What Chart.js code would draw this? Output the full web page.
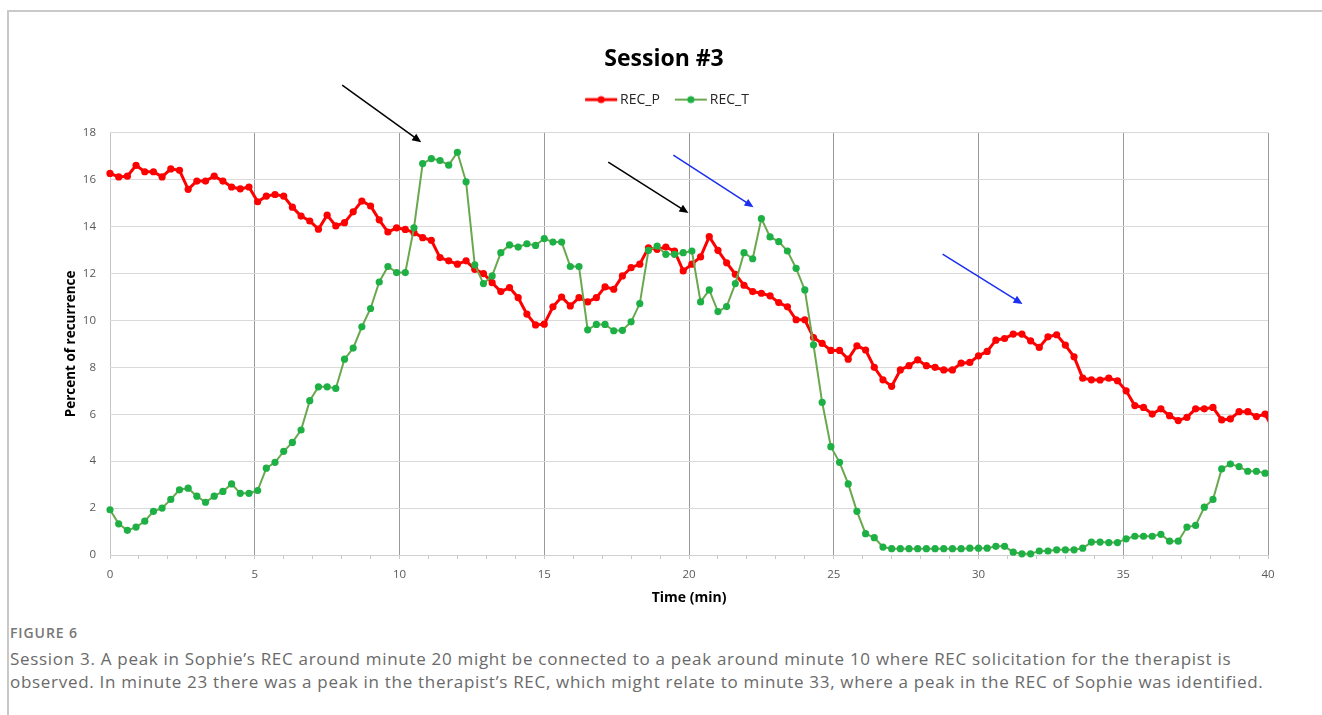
<!DOCTYPE html>
<html>
<head>
<meta charset="utf-8">
<script src="https://cdn.jsdelivr.net/npm/chart.js@4/dist/chart.umd.min.js"></script>
<style>
  html, body { margin: 0; padding: 0; background: #fff; }
  body { width: 1322px; height: 715px; position: relative; overflow: hidden; font-family: "Open Sans", sans-serif; }
  #frame { position: absolute; left: 7px; top: 10px; right: 0; bottom: 0; border-top: 2px solid #c9c9c9; border-left: 2px solid #c9c9c9; }
  #wrap { position: absolute; left: 0; top: 0; width: 1322px; height: 620px; }
  #fig { position: absolute; left: 10px; top: 623px; font-size: 14px; font-weight: 600; color: #777; letter-spacing: 0.9px; }
  #caption { position: absolute; left: 10px; top: 647px; font-size: 17px; line-height: 23px; letter-spacing: 0.7px; color: #6a6a6a; white-space: nowrap; }
</style>
</head>
<body>
<div id="frame"></div>
<div id="wrap"><canvas id="chart" width="1322" height="620"></canvas></div>
<div id="fig">FIGURE 6</div>
<div id="caption">Session 3. A peak in Sophie’s REC around minute 20 might be connected to a peak around minute 10 where REC solicitation for the therapist is<br>observed. In minute 23 there was a peak in the therapist’s REC, which might relate to minute 33, where a peak in the REC of Sophie was identified.</div>
<script>
// Recurrence samples are taken every 0.3 min across the 40-minute session.
const SAMPLE_STEP_MIN = 0.3;

const recP = [
  16.27, 16.12, 16.15, 16.61, 16.34, 16.34, 16.12, 16.46, 16.40, 15.59,
  15.94, 15.94, 16.15, 15.94, 15.69, 15.61, 15.69, 15.06, 15.30, 15.37,
  15.30, 14.83, 14.45, 14.24, 13.89, 14.49, 14.03, 14.17, 14.63, 15.09,
  14.88, 14.29, 13.77, 13.95, 13.88, 13.74, 13.53, 13.42, 12.68, 12.54,
  12.40, 12.54, 12.18, 12.00, 11.61, 11.23, 11.40, 10.97, 10.27, 9.81,
  9.84, 10.58, 11.00, 10.62, 10.97, 10.79, 10.97, 11.43, 11.33, 11.90,
  12.25, 12.40, 13.10, 13.03, 13.13, 12.96, 12.11, 12.40, 12.71, 13.57,
  12.99, 12.46, 11.97, 11.50, 11.23, 11.16, 11.05, 10.76, 10.58, 10.03,
  10.03, 9.27, 9.02, 8.72, 8.72, 8.35, 8.92, 8.74, 8.00, 7.47,
  7.19, 7.89, 8.07, 8.32, 8.07, 8.00, 7.89, 7.89, 8.18, 8.21,
  8.49, 8.68, 9.16, 9.23, 9.42, 9.42, 9.13, 8.85, 9.30, 9.39,
  8.95, 8.45, 7.54, 7.47, 7.46, 7.54, 7.43, 7.00, 6.37, 6.29,
  6.01, 6.23, 5.94, 5.73, 5.87, 6.23, 6.23, 6.29, 5.76, 5.80,
  6.11, 6.11, 5.90, 6.01, 5.30
];

const recT = [
  1.93, 1.33, 1.05, 1.19, 1.44, 1.86, 2.00, 2.37, 2.78, 2.85,
  2.51, 2.25, 2.51, 2.71, 3.03, 2.63, 2.63, 2.75, 3.70, 3.95,
  4.42, 4.80, 5.33, 6.58, 7.17, 7.17, 7.10, 8.35, 8.82, 9.73,
  10.51, 11.64, 12.30, 12.04, 12.04, 13.95, 16.69, 16.90, 16.82, 16.62,
  17.17, 15.91, 12.37, 11.57, 11.90, 12.89, 13.22, 13.13, 13.27, 13.20,
  13.49, 13.34, 13.34, 12.30, 12.30, 9.60, 9.83, 9.83, 9.56, 9.58,
  9.94, 10.72, 12.99, 13.17, 12.82, 12.82, 12.89, 12.96, 10.79, 11.30,
  10.38, 10.59, 11.57, 12.89, 12.63, 14.34, 13.56, 13.36, 12.96, 12.22,
  11.30, 8.96, 6.51, 4.62, 3.95, 3.03, 1.86, 0.91, 0.74, 0.34,
  0.27, 0.27, 0.27, 0.27, 0.27, 0.27, 0.27, 0.27, 0.27, 0.29,
  0.29, 0.29, 0.37, 0.37, 0.12, 0.05, 0.05, 0.17, 0.17, 0.22,
  0.22, 0.22, 0.29, 0.55, 0.55, 0.53, 0.53, 0.69, 0.80, 0.80,
  0.80, 0.88, 0.59, 0.59, 1.19, 1.26, 2.04, 2.37, 3.67, 3.88,
  3.77, 3.57, 3.57, 3.49
];

const seriesNames = ['REC_P', 'REC_T'];
const xTickLabels = [0, 5, 10, 15, 20, 25, 30, 35, 40];
const yTickLabels = [0, 2, 4, 6, 8, 10, 12, 14, 16, 18];

// Annotation arrows, endpoints in (minutes, percent)
const arrowFrom = [[8.02, 20.03], [17.21, 16.75], [19.46, 17.05], [28.76, 12.83]];
const arrowTo   = [[10.75, 17.60], [19.98, 14.58], [22.23, 14.83], [31.52, 10.70]];
const arrowColors = ['#000000', '#000000', '#1a2ff0', '#1a2ff0'];

const toPoints = vals => vals.map((v, i) => ({ x: +(i * SAMPLE_STEP_MIN).toFixed(2), y: v }));

// Legend swatch: short line with a dot in the middle (offset right so the label sits close)
function swatch(lineColor, dotColor, lw) {
  const c = document.createElement('canvas');
  c.width = 54; c.height = 10;
  const g = c.getContext('2d');
  g.strokeStyle = lineColor; g.lineWidth = lw;
  g.beginPath(); g.moveTo(16, 5); g.lineTo(48, 5); g.stroke();
  g.fillStyle = dotColor;
  g.beginPath(); g.arc(32, 5, 3.6, 0, Math.PI * 2); g.fill();
  return c;
}

const arrowPlugin = {
  id: 'arrows',
  afterDatasetsDraw(chart) {
    const { ctx, scales: { x, y } } = chart;
    ctx.save();
    arrowFrom.forEach((from, i) => {
      const to = arrowTo[i];
      const x0 = x.getPixelForValue(from[0]), y0 = y.getPixelForValue(from[1]);
      const x1 = x.getPixelForValue(to[0]), y1 = y.getPixelForValue(to[1]);
      const ang = Math.atan2(y1 - y0, x1 - x0);
      const head = 9, half = 4;
      ctx.strokeStyle = arrowColors[i];
      ctx.fillStyle = arrowColors[i];
      ctx.lineWidth = 1.5;
      ctx.beginPath();
      ctx.moveTo(x0, y0);
      ctx.lineTo(x1 - Math.cos(ang) * head * 0.8, y1 - Math.sin(ang) * head * 0.8);
      ctx.stroke();
      ctx.beginPath();
      ctx.moveTo(x1, y1);
      ctx.lineTo(x1 - Math.cos(ang) * head - Math.sin(ang) * half, y1 - Math.sin(ang) * head + Math.cos(ang) * half);
      ctx.lineTo(x1 - Math.cos(ang) * head + Math.sin(ang) * half, y1 - Math.sin(ang) * head - Math.cos(ang) * half);
      ctx.closePath();
      ctx.fill();
    });
    ctx.restore();
  }
};

const swatches = [swatch('#ff0000', '#ff0000', 3), swatch('#6aa84f', '#1db044', 2)];

new Chart(document.getElementById('chart'), {
  type: 'line',
  data: {
    datasets: [
      {
        label: seriesNames[0],
        data: toPoints(recP),
        borderColor: '#ff0000',
        backgroundColor: '#ff0000',
        borderWidth: 3,
        pointRadius: c => (c.parsed && c.parsed.x > 40 ? 0 : 3.6),
        pointBorderWidth: 0,
        pointBackgroundColor: '#ff0000',
        tension: 0,
        order: 1,
        clip: { left: 6, top: 6, right: 0, bottom: 6 }
      },
      {
        label: seriesNames[1],
        data: toPoints(recT),
        borderColor: '#6aa84f',
        backgroundColor: '#1db044',
        borderWidth: 2,
        pointRadius: 3.6,
        pointBorderWidth: 0,
        pointBackgroundColor: '#1db044',
        tension: 0,
        order: 0,
        clip: { left: 6, top: 6, right: 6, bottom: 6 }
      }
    ]
  },
  options: {
    responsive: false,
    animation: false,
    events: [],
    layout: { padding: { left: 60, right: 54, top: 0, bottom: 10 } },
    plugins: {
      title: {
        display: true,
        text: 'Session #3',
        color: '#000',
        font: { family: 'Open Sans', size: 23, weight: 'bold' },
        padding: { top: 46, bottom: 10 }
      },
      // empty spacer between the legend and the plot area
      subtitle: {
        display: true,
        text: ' ',
        weight: 500,
        font: { size: 1 },
        padding: { top: 0, bottom: 15 }
      },
      legend: {
        display: true,
        position: 'top',
        weight: 1000,
        labels: {
          usePointStyle: true,
          pointStyleWidth: 34,
          padding: 9,
          color: '#262626',
          font: { family: 'Open Sans', size: 14 },
          generateLabels: chart => chart.data.datasets.map((ds, i) => ({
            text: ds.label,
            datasetIndex: i,
            pointStyle: swatches[i],
            fillStyle: ds.borderColor,
            strokeStyle: ds.borderColor,
            lineWidth: 0,
            hidden: false,
            fontColor: '#262626'
          })).sort((a, b) => a.datasetIndex - b.datasetIndex)
        }
      },
      tooltip: { enabled: false }
    },
    scales: {
      x: {
        type: 'linear',
        min: 0,
        max: 40,
        afterBuildTicks: s => {
          const t = [];
          for (let m = 0; m <= 40; m++) t.push({ value: m });
          s.ticks = t;
        },
        afterFit: s => { s.height = 55; },
        ticks: {
          autoSkip: false,
          maxRotation: 0,
          padding: 9,
          color: '#595959',
          font: { family: 'Open Sans', size: 11.5 },
          callback: v => (xTickLabels.includes(v) ? String(v) : '')
        },
        grid: {
          drawTicks: true,
          tickLength: 4,
          tickColor: '#c8c8c8',
          lineWidth: 1,
          color: c => {
            const v = c.tick ? c.tick.value : null;
            if (v === 0) return '#c4c4c4';
            return xTickLabels.includes(v) ? '#9a9a9a' : 'rgba(0,0,0,0)';
          }
        },
        border: { display: true, color: '#d0d0d0', width: 1 },
        title: {
          display: true,
          text: 'Time (min)',
          color: '#000',
          font: { family: 'Open Sans', size: 14, weight: 'bold' },
          padding: { top: 2, bottom: 4 }
        }
      },
      y: {
        min: 0,
        max: 18,
        afterBuildTicks: s => { s.ticks = yTickLabels.map(v => ({ value: v })); },
        afterFit: s => { s.width = 50; },
        ticks: {
          padding: 14,
          color: '#595959',
          font: { family: 'Open Sans', size: 11.5 }
        },
        grid: { drawTicks: false, color: '#d9d9d9', lineWidth: 1 },
        border: { display: false },
        title: {
          display: true,
          text: 'Percent of recurrence',
          color: '#000',
          font: { family: 'Open Sans', size: 13.5, weight: 'bold' },
          padding: { top: 3, bottom: 4 }
        }
      }
    }
  },
  plugins: [arrowPlugin]
});
</script>
</body>
</html>
